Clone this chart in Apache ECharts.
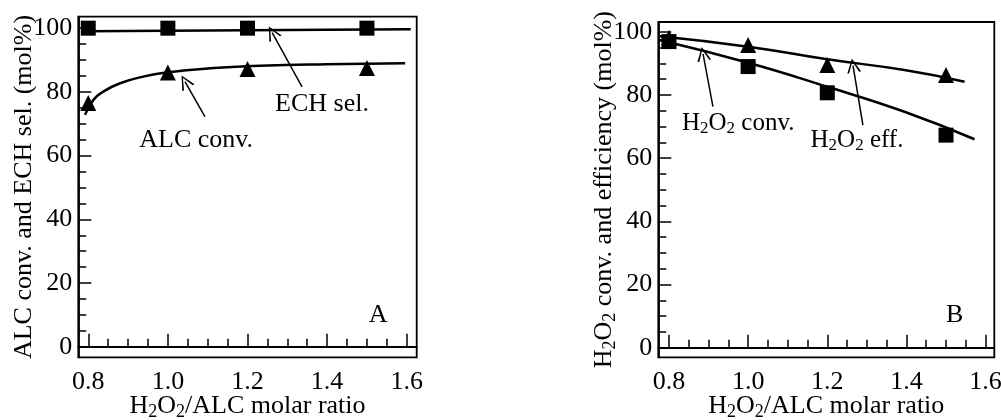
<!DOCTYPE html>
<html>
<head>
<meta charset="utf-8">
<script src="https://cdn.jsdelivr.net/npm/echarts@6/dist/echarts.min.js"></script>
<style>
  html, body { margin: 0; padding: 0; background: #fff; }
  #main { width: 1001px; height: 420px; }
</style>
</head>
<body>
<div id="main"></div>
<script>
// measured points (H2O2/ALC molar ratio)
var ratio = [0.8, 1.0, 1.2, 1.5];
var echSel = [100, 100, 100, 100];
var alcConv = [76.5, 86.1, 87.2, 87.5];
var h2o2Eff = [98.0, 95.8, 89.5, 86.3];
var h2o2Conv = [96.9, 89.0, 80.7, 67.3];

// fitted curves
var echFitX = [0.793, 1.0, 1.2, 1.4, 1.61];
var echFitY = [99.0, 99.2, 99.35, 99.5, 99.65];
var alcFitX = [0.792, 0.813, 0.838, 0.88, 0.938, 0.997, 1.106, 1.231, 1.399, 1.596];
var alcFitY = [72.8, 77.5, 80.1, 82.7, 84.8, 86.1, 87.4, 88.2, 88.7, 89.0];
var effFitX = [0.776, 1.0, 1.2, 1.395, 1.547];
var effFitY = [98.6, 95.3, 91.3, 87.9, 84.2];
var convFitX = [0.776, 1.0, 1.2, 1.395, 1.572];
var convFitY = [97.4, 90.2, 82.6, 74.7, 66.0];

// ticks
var xMajor = [0.8, 1.0, 1.2, 1.4, 1.6];
var xMinor = [0.85, 0.9, 0.95, 1.05, 1.1, 1.15, 1.25, 1.3, 1.35, 1.45, 1.5, 1.55];
var yMajor = [0, 20, 40, 60, 80, 100];
var yMinor = [5, 10, 15, 25, 30, 35, 45, 50, 55, 65, 70, 75, 85, 90, 95];

var FONT = '"Liberation Serif", "Times New Roman", serif';

function pairs(xs, ys) {
  return xs.map(function (x, i) { return [x, ys[i]]; });
}

var rich = {
  n: { fontFamily: FONT, fontSize: 26, color: '#000', lineHeight: 30 },
  s: { fontFamily: FONT, fontSize: 18, color: '#000', lineHeight: 18, verticalAlign: 'bottom' },
  m: { fontFamily: FONT, fontSize: 26, color: '#000', lineHeight: 30 },
  t: { fontFamily: FONT, fontSize: 18, color: '#000', lineHeight: 18, verticalAlign: 'bottom' },
  a: { fontFamily: FONT, fontSize: 25, color: '#000', lineHeight: 28 },
  b: { fontFamily: FONT, fontSize: 17, color: '#000', lineHeight: 17, verticalAlign: 'bottom' }
};

function xAxes(grid, min, max) {
  return [{
    gridIndex: grid, type: 'value', min: min, max: max, position: 'bottom',
    axisLine: { lineStyle: { color: '#000', width: 1.8 } },
    axisTick: { inside: true, length: 13, customValues: xMajor, lineStyle: { color: '#000', width: 1.5 } },
    axisLabel: { customValues: xMajor, margin: 12, color: '#000', fontFamily: FONT, fontSize: 26,
      formatter: function (v) { return v.toFixed(1); } },
    splitLine: { show: false },
    name: '{n|H}{s|2}{n|O}{s|2}{n|/ALC molar ratio}',
    nameLocation: 'middle', nameGap: 34, nameMoveOverlap: false,
    nameTextStyle: { rich: rich }
  }, {
    gridIndex: grid, type: 'value', min: min, max: max, position: 'bottom',
    axisLine: { show: false },
    axisTick: { inside: true, length: 8, customValues: xMinor, lineStyle: { color: '#000', width: 1.5 } },
    axisLabel: { show: false },
    splitLine: { show: false }
  }];
}

function yAxes(grid, min, max, name, gap) {
  return [{
    gridIndex: grid, type: 'value', min: min, max: max, position: 'left',
    axisLine: { lineStyle: { color: '#000', width: 1.8 } },
    axisTick: { inside: true, length: 13, customValues: yMajor, lineStyle: { color: '#000', width: 1.5 } },
    axisLabel: { customValues: yMajor, margin: 6, padding: [5, 0, 0, 0], color: '#000', fontFamily: FONT, fontSize: 26 },
    splitLine: { show: false },
    name: name, nameLocation: 'middle', nameGap: gap, nameMoveOverlap: false,
    nameTextStyle: { rich: rich }
  }, {
    gridIndex: grid, type: 'value', min: min, max: max, position: 'left',
    axisLine: { show: false },
    axisTick: { inside: true, length: 8, customValues: yMinor, lineStyle: { color: '#000', width: 1.5 } },
    axisLabel: { show: false },
    splitLine: { show: false }
  }];
}

// open "V" arrow head
var ARROW = 'path://M5,0 L10,13 L8.6,13 L5,2.6 L1.4,13 L0,13 Z';

function note(x, y, text) {
  return { coord: [x, y], name: text };
}
function arrow(x1, y1, x2, y2) {
  return [{ coord: [x1, y1], symbol: 'none' }, { coord: [x2, y2], symbol: ARROW, symbolSize: 14 }];
}
var notePoint = {
  symbol: 'circle', symbolSize: 0, silent: true,
  label: { show: true, position: 'inside', color: '#000', rich: rich,
    formatter: function (p) { return p.name; } }
};
var arrowLine = {
  silent: true, symbolSize: 14,
  lineStyle: { color: '#000', width: 1.5, type: 'solid' },
  label: { show: false }, emphasis: { disabled: true }
};

function withData(base, data) {
  return Object.assign({}, base, { data: data });
}

var dot = { color: '#000', opacity: 1 };

var option = {
  animation: false,
  backgroundColor: '#fff',
  grid: [
    { left: 78.3, top: 16.7, width: 338.4, height: 340.6, outerBoundsMode: 'none', containLabel: false,
      show: true, borderColor: '#000', borderWidth: 1.8, backgroundColor: 'transparent' },
    { left: 658.3, top: 22, width: 336, height: 335.3, outerBoundsMode: 'none', containLabel: false,
      show: true, borderColor: '#000', borderWidth: 1.8, backgroundColor: 'transparent' }
  ],
  xAxis: xAxes(0, 0.775, 1.625).concat(xAxes(1, 0.773, 1.622)),
  yAxis: yAxes(0, -3.3, 103.6, '{m|ALC conv. and ECH sel. (mol%)}', 39)
    .concat(yAxes(1, -3.0, 103.1, '{m|H}{t|2}{m|O}{t|2}{m| conv. and efficiency (mol%)}', 39)),
  series: [
    {
      type: 'line', xAxisIndex: 0, yAxisIndex: 0, data: pairs(echFitX, echFitY),
      showSymbol: false, lineStyle: { color: '#000', width: 2.5 },
      markPoint: withData(notePoint, [note(1.387, 76.2, '{n|ECH sel.}'), note(1.528, 9.9, '{n|A}')]),
      markLine: withData(arrowLine, [arrow(1.337, 81.6, 1.262, 98.6)])
    },
    {
      type: 'line', xAxisIndex: 0, yAxisIndex: 0, data: pairs(alcFitX, alcFitY),
      smooth: true, showSymbol: false, lineStyle: { color: '#000', width: 2.5 },
      markPoint: withData(notePoint, [note(1.071, 64.8, '{n|ALC conv.}')]),
      markLine: withData(arrowLine, [arrow(1.093, 72.2, 1.043, 83.2)])
    },
    {
      type: 'scatter', xAxisIndex: 0, yAxisIndex: 0, data: pairs(ratio, alcConv),
      symbol: 'triangle', symbolSize: 16, itemStyle: dot
    },
    {
      type: 'scatter', xAxisIndex: 0, yAxisIndex: 0, data: pairs(ratio, echSel),
      symbol: 'rect', symbolSize: 15, itemStyle: dot
    },
    {
      type: 'line', xAxisIndex: 2, yAxisIndex: 2, data: pairs(effFitX, effFitY),
      smooth: true, showSymbol: false, lineStyle: { color: '#000', width: 2.5 },
      markPoint: withData(notePoint, [note(1.275, 65.7, '{a|H}{b|2}{a|O}{b|2}{a| eff.}'), note(1.522, 10.4, '{n|B}')]),
      markLine: withData(arrowLine, [arrow(1.29, 70.5, 1.265, 89.3)])
    },
    {
      type: 'line', xAxisIndex: 2, yAxisIndex: 2, data: pairs(convFitX, convFitY),
      smooth: true, showSymbol: false, lineStyle: { color: '#000', width: 2.5 },
      markPoint: withData(notePoint, [note(0.975, 71.0, '{a|H}{b|2}{a|O}{b|2}{a| conv.}')]),
      markLine: withData(arrowLine, [arrow(0.911, 76.3, 0.886, 93.0)])
    },
    {
      type: 'scatter', xAxisIndex: 2, yAxisIndex: 2, data: pairs(ratio, h2o2Eff),
      symbol: 'triangle', symbolSize: 16, itemStyle: dot
    },
    {
      type: 'scatter', xAxisIndex: 2, yAxisIndex: 2, data: pairs(ratio, h2o2Conv),
      symbol: 'rect', symbolSize: 15, itemStyle: dot
    }
  ]
};

var myChart = echarts.init(document.getElementById('main'));
option && myChart.setOption(option);
</script>
</body>
</html>
